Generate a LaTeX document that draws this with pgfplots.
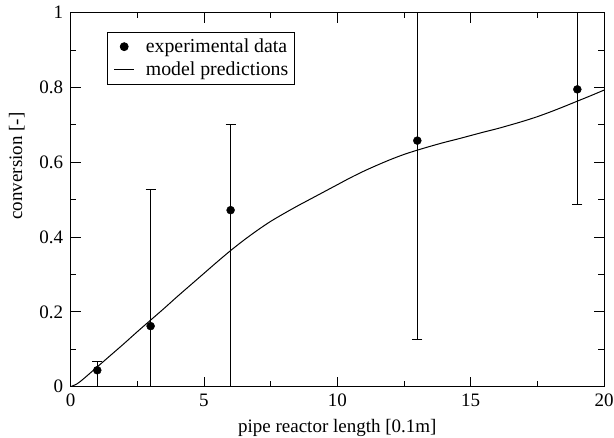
\documentclass[border=0pt]{standalone}
\usepackage{fontspec}
\setmainfont{Liberation Serif}
\usepackage{pgfplots}
\pgfplotsset{compat=1.18}
\pgfplotsset{
  shortline/.style={legend image code/.code={\draw[##1] (0bp,0bp) -- (20bp,0bp);}},
  shortmark/.style={legend image code/.code={\path[draw=none,fill=none] (0bp,0bp) -- (20bp,0bp);
     \draw[##1] plot coordinates {(10bp,0bp)};}},
}
\begin{document}
\fontsize{19bp}{22bp}\selectfont
\begin{tikzpicture}
\begin{axis}[
  scale only axis, width=533.4bp, height=374bp,
  xmin=0, xmax=20, ymin=0, ymax=1,
  xtick={0,5,10,15,20}, ytick={0,0.2,0.4,0.6,0.8,1},
  minor tick num=1,
  tick align=inside,
  major tick length=10bp, minor tick length=5.7bp,
  tick style={line width=0.8bp, black},
  axis line style={line width=0.8bp},
  /pgf/number format/assume math mode=true,
  tick label style={font=\fontsize{19bp}{22bp}\selectfont},
  xticklabel style={yshift=-1bp},
  yticklabel style={xshift=-1bp},
  xlabel={pipe reactor length [0.1m]},
  ylabel={conversion [-]},
  xlabel style={at={(axis description cs:0.5,0)}, anchor=base, yshift=-45.5bp, font=\fontsize{19bp}{22bp}\selectfont},
  ylabel style={at={(axis description cs:-0.101,0.59)}, anchor=center, rotate=0, font=\fontsize{19bp}{22bp}\selectfont},
  legend style={at={(axis description cs:0.0688,0.949)}, anchor=north west,
    draw=black, line width=0.8bp, font=\fontsize{19.8bp}{22bp}\selectfont,
    inner xsep=6bp, inner ysep=4bp, row sep=2.3bp, column sep=0bp,
    nodes={inner sep=0bp, text height=16bp, text depth=5bp},
    /tikz/every odd column/.append style={column sep=11.2bp}},
  legend cell align=left,
]
\addplot[only marks, mark=*, mark size=4bp, black, shortmark,
  error bars/.cd, y dir=both, y explicit,
  error bar style={line width=0.9bp, black},
  error mark options={rotate=90, mark size=5bp, line width=0.9bp, black}]
  coordinates {
  (1,0.044) += (0,0.024) -= (0,0.10)
  (3,0.162) += (0,0.366) -= (0,0.25)
  (6,0.472) += (0,0.228) -= (0,0.55)
  (13,0.658) += (0,0.45) -= (0,0.531)
  (19,0.795) += (0,0.30) -= (0,0.309)
  };
\addlegendentry{experimental data}
\addplot[black, line width=1bp, smooth, shortline]
  coordinates {
  (0,0) (0.25,0.008) (0.5,0.022) (1,0.053) (1.5,0.084) (2,0.115) (2.5,0.147)
  (3,0.178) (3.5,0.209) (4,0.241) (4.5,0.272) (5,0.303) (5.5,0.334) (6,0.364)
  (6.5,0.392) (7,0.418) (7.5,0.442) (8,0.463) (8.5,0.483) (9,0.502)
  (9.5,0.521) (10,0.540) (10.5,0.559) (11,0.5765) (11.5,0.5925) (12,0.6075)
  (12.5,0.621) (13,0.6325) (13.5,0.643) (14,0.653) (14.5,0.662) (15,0.6715)
  (15.5,0.681) (16,0.690) (16.5,0.700) (17,0.7105) (17.5,0.722) (18,0.735)
  (18.5,0.749) (19,0.7635) (19.5,0.778) (20,0.793)
  };
\addlegendentry{model predictions}
\end{axis}
\pgfresetboundingbox
\path ([xshift=-70.6bp,yshift=-51.3bp]current axis.south west) rectangle ([xshift=10bp,yshift=12.7bp]current axis.north east);
\end{tikzpicture}
\end{document}
